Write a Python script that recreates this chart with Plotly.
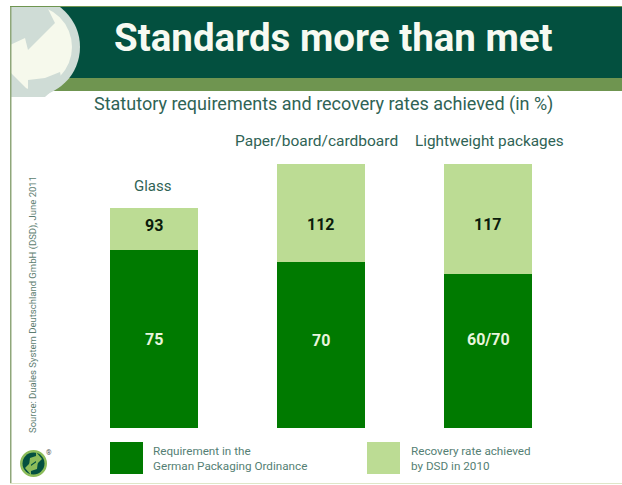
import plotly.graph_objects as go

categories = ["Glass", "Paper/board/cardboard", "Lightweight packages"]
requirement = [75, 70, 65]
recovery_drawn = [93, 111.5, 111.5]
requirement_labels = ["75", "70", "60/70"]
recovery_labels = ["93", "112", "117"]
W, H = 622, 485
DARK = "#03503f"
OLIVE = "#6f9550"
GREEN = "#007a00"
LIGHT = "#bcdc94"
TEXT = "#2f6355"
GREY = "#cfdcd6"
CREAM = "#f6f9ec"
FONT = "Roboto"

segment = [t - r for t, r in zip(recovery_drawn, requirement)]
fig = go.Figure()
fig.add_bar(x=categories, y=requirement, marker=dict(color=GREEN, line_width=0), name="Requirement")
fig.add_bar(x=categories, y=segment, marker=dict(color=LIGHT, line_width=0), name="Recovery")

def px(x): return x / W
def py(y): return 1 - y / H

def rect(x0, y0, x1, y1, color):
    return dict(type="rect", xref="paper", yref="paper", x0=px(x0), x1=px(x1), y0=py(y0), y1=py(y1),
                fillcolor=color, line_width=0, layer="below")

def pth(points, color):
    d = "M " + " L ".join(f"{px(a):.4f},{py(b):.4f}" for a, b in points) + " Z"
    return dict(type="path", xref="paper", yref="paper", path=d, fillcolor=color, line_width=0, layer="below")

def circ(cx, cy, r, color):
    return dict(type="circle", xref="paper", yref="paper", x0=px(cx - r), x1=px(cx + r),
                y0=py(cy + r), y1=py(cy - r), fillcolor=color, line_width=0, layer="below")

shapes = [
    rect(10, 7, W, 78, DARK),
    rect(10, 78, W, 91, OLIVE),
    circ(30, 47, 50, GREY),
    circ(30, 47, 42, CREAM),
    pth([(10, 7), (47, 7), (55, 23), (28, 50), (25, 38), (10, 45)], GREY),
    pth([(28, 80), (45, 78), (60, 72), (62, 82), (45, 97), (28, 97)], GREY),
    pth([(10, 72), (28, 90), (28, 97), (10, 97)], GREY),
    rect(0, 0, 10, H, "#ffffff"),
    rect(0, 0, W, 6.5, "#ffffff"),
    rect(10, 6, W, 7, OLIVE),
    rect(10, 7, 11.5, 483, "#8fa77a"),
    rect(10, 483, W, 484, "#dfe6c8"),
    rect(110, 442, 143, 474, GREEN),
    rect(367, 442, 400, 474, LIGHT),
    circ(33.5, 463.5, 13.5, "#8cbc5a"),
    circ(33.5, 463.5, 11, DARK),
    pth([(36, 452), (42, 459), (36, 465), (36, 461), (29, 466), (30, 458), (36, 456)], "#8cbc5a"),
    pth([(31, 475), (25, 468), (31, 462), (31, 466), (38, 461), (37, 469), (31, 471)], "#8cbc5a"),
]
fig.update_layout(shapes=shapes)

def note(x, y, text, size, color=TEXT, anchor="center", angle=0, weight="normal"):
    fig.add_annotation(xref="paper", yref="paper", x=px(x), y=py(y), text=text, showarrow=False,
                       xanchor=anchor, yanchor="middle", textangle=angle, align="left",
                       font=dict(family=FONT, size=size, color=color, weight=weight))

def bar_label(cat, level, text, color):
    fig.add_annotation(xref="x", yref="y", x=cat, y=level, text=text, showarrow=False,
                       font=dict(family=FONT, size=16, color=color, weight="bold"))

lower_levels = [37.5, 37, 37.5]
upper_levels = [85.5, 86, 86]
for c, lv, t in zip(categories, lower_levels, requirement_labels):
    bar_label(c, lv, t, "#e8f5dc")
for c, lv, t in zip(categories, upper_levels, recovery_labels):
    bar_label(c, lv, t, "#0c1c0c")

note(333, 38, "Standards more than met", 38.5, "#f7faf2", weight="bold")
note(323, 104, "Statutory requirements and recovery rates achieved (in %)", 18)
note(153, 186, categories[0], 15)
note(316, 141, categories[1], 15.5)
note(489, 141, categories[2], 15.3)
note(33, 305, "Source: Duales System Deutschland GmbH (DSD), June 2011", 9.5, "#5c7d70", angle=-90)
note(151, 458.5, "Requirement in the<br>German Packaging Ordinance", 11.7, "#557f74", anchor="left")
note(409, 458.5, "Recovery rate achieved<br>by DSD in 2010", 11.7, "#557f74", anchor="left")
note(49, 453, "®", 7, "#555555")

fig.update_layout(
    width=W, height=H, margin=dict(l=0, r=0, t=0, b=0), barmode="stack", bargap=0.473,
    showlegend=False, paper_bgcolor="#ffffff", plot_bgcolor="rgba(0,0,0,0)",
    xaxis=dict(domain=[70.5 / W, 571.5 / W], visible=False, type="category"),
    yaxis=dict(domain=[py(428), py(150)], range=[0, 117.3], visible=False),
)
fig.write_html("out.html", config={"displayModeBar": False},
               post_script="document.body.style.margin='0';")
